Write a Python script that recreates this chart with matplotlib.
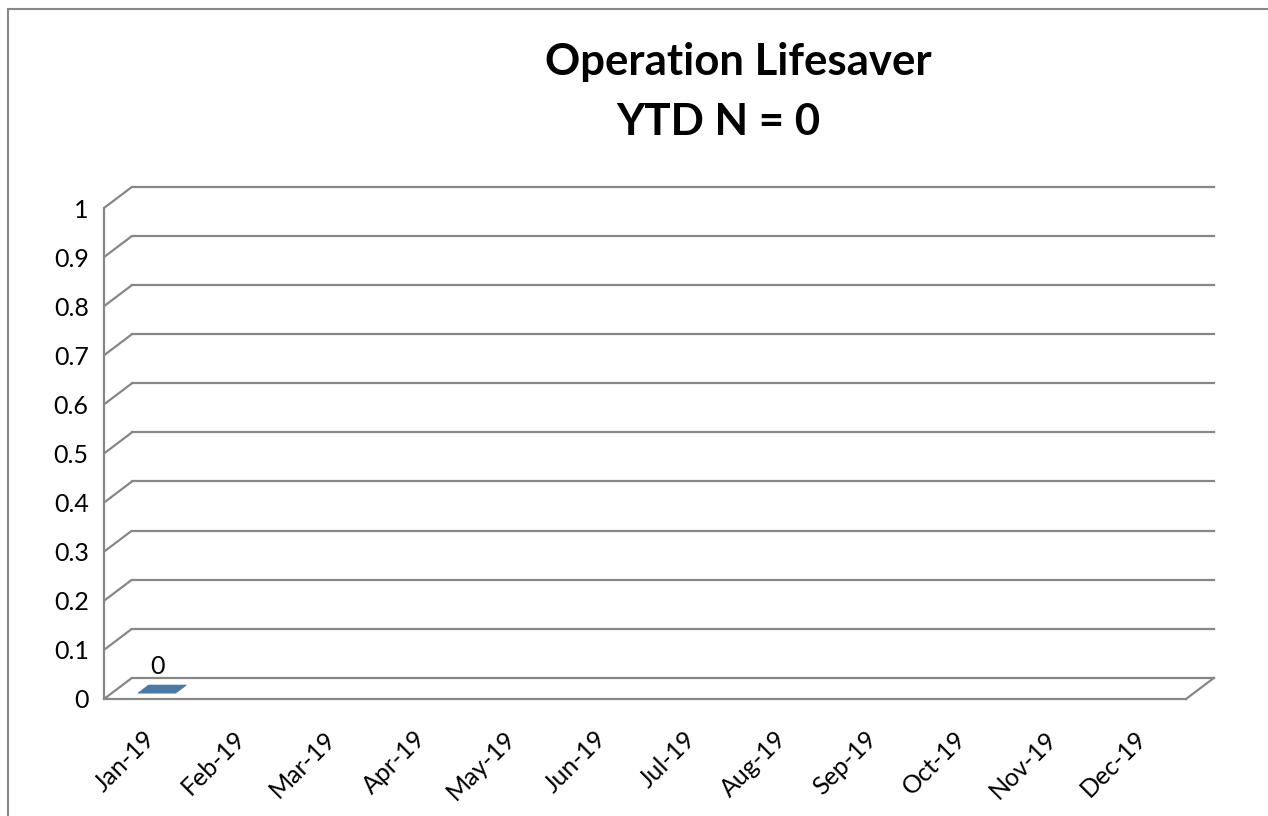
import matplotlib.pyplot as plt
import matplotlib.transforms as mtrans
from matplotlib.patches import Polygon, Rectangle

plt.rcParams['font.family'] = ['Lato', 'DejaVu Sans']

# chart data
months = ['Jan-19', 'Feb-19', 'Mar-19', 'Apr-19', 'May-19', 'Jun-19',
          'Jul-19', 'Aug-19', 'Sep-19', 'Oct-19', 'Nov-19', 'Dec-19']
counts = [0]          # only January has a value
y_ticks = [0, 0.1, 0.2, 0.3, 0.4, 0.5, 0.6, 0.7, 0.8, 0.9, 1]
title_1 = 'Operation Lifesaver'
title_2 = 'YTD N = %d' % sum(counts)

grid_col = '#878787'
bar_col = '#4A79A3'

# fake 3d depth (data units)
dx, dy = 0.31, 0.043

fig = plt.figure(figsize=(12.68, 8.16), dpi=100)
fig.patches.append(Rectangle((7.5 / 1268, -0.1), 1.2, 1.1 - 8.5 / 816, transform=fig.transFigure,
                             fill=False, edgecolor=grid_col, linewidth=1.5))

ax = fig.add_axes([104 / 1268, 117 / 816, 1082 / 1268, 491 / 816])
ax.set_xlim(0, len(months))
ax.set_ylim(0, 1)
for s in ax.spines.values():
    s.set_visible(False)

# back wall + side wall grid
for v in y_ticks:
    ax.plot([0, dx], [v, v + dy], color=grid_col, lw=1.6, clip_on=False, solid_capstyle='butt')
    ax.plot([dx, len(months) + dx], [v + dy, v + dy], color=grid_col, lw=1.6, clip_on=False)
# floor front edge and right edge, front y axis
ax.plot([0, len(months)], [0, 0], color=grid_col, lw=1.6, clip_on=False)
ax.plot([len(months), len(months) + dx], [0, dy], color=grid_col, lw=1.6, clip_on=False)
ax.plot([0, 0], [0, 1], color=grid_col, lw=1.6, clip_on=False)

# bars (flat since values are 0)
f1, f2 = 0.28, 0.66
w = 0.42
for i, c in enumerate(counts):
    x0, x1 = i + 0.5 - w / 2, i + 0.5 + w / 2
    pts = [(x0 + f1 * dx, c + f1 * dy), (x1 + f1 * dx, c + f1 * dy),
           (x1 + f2 * dx, c + f2 * dy), (x0 + f2 * dx, c + f2 * dy)]
    ax.add_patch(Polygon(pts, closed=True, facecolor=bar_col, edgecolor=bar_col, lw=0.5, clip_on=False))
    ax.annotate(str(c), (i + 0.5 + 0.3 * dx, c + f2 * dy), xytext=(0, 5), textcoords='offset points',
                ha='center', va='bottom', fontsize=18)

ax.set_yticks(y_ticks)
ax.set_yticklabels(['%g' % t for t in y_ticks], fontsize=18)
ax.set_xticks([i + 0.5 for i in range(len(months))])
ax.set_xticklabels(months, fontsize=18, rotation=45, ha='right', rotation_mode='anchor')
ax.tick_params(axis='y', length=0, pad=11)
ax.tick_params(axis='x', length=0, pad=20)
shift = mtrans.ScaledTranslation(-6 / 100, 0, fig.dpi_scale_trans)
for lab in ax.get_xticklabels():
    lab.set_transform(lab.get_transform() + shift)

fig.text(738 / 1268, 1 - 62 / 816, title_1, ha='center', va='center', fontsize=31.5, fontweight='bold')
fig.text(718 / 1268, 1 - 122 / 816, title_2, ha='center', va='center', fontsize=31.5, fontweight='bold')

fig.savefig('out.png', dpi=100)
